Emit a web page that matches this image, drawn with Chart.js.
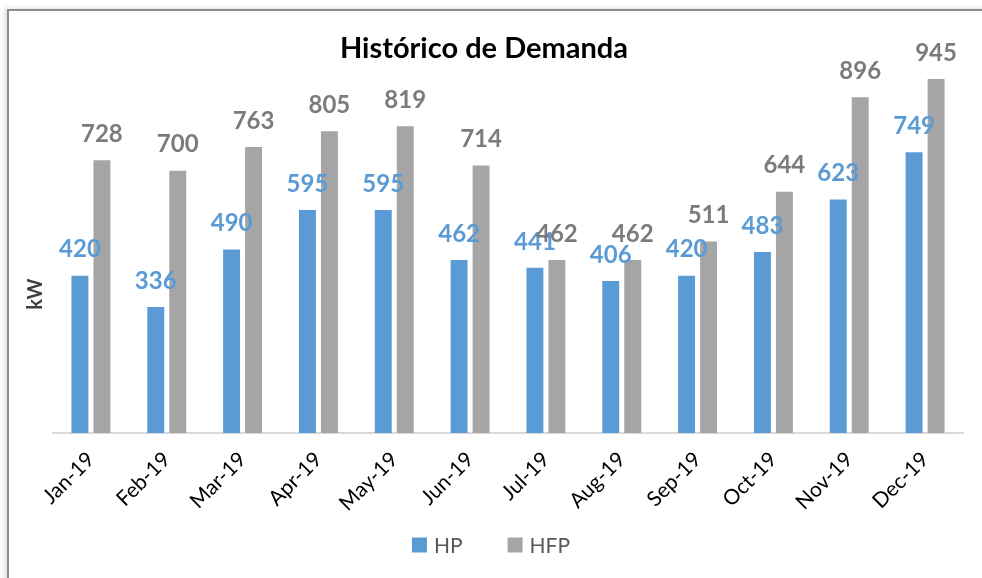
<!DOCTYPE html>
<html>
<head>
<meta charset="utf-8">
<script src="https://cdn.jsdelivr.net/npm/chart.js@4/dist/chart.umd.min.js"></script>
<style>
  html, body { margin: 0; padding: 0; background: #fff; overflow: hidden; }
  #frame {
    position: absolute; left: 7px; top: 9px; width: 1000px; height: 600px;
    border-left: 2px solid #8c8c8c; border-top: 2px solid #8c8c8c;
    box-shadow: -3px -1px 4px rgba(0,0,0,0.12);
  }
  #wrap { position: absolute; left: 0; top: 0; width: 982px; height: 578px; }
</style>
</head>
<body>
<div id="frame"></div>
<div id="wrap"><canvas id="c" width="982" height="578"></canvas></div>
<script>
const months = ['Jan-19','Feb-19','Mar-19','Apr-19','May-19','Jun-19','Jul-19','Aug-19','Sep-19','Oct-19','Nov-19','Dec-19'];
const hp  = [420, 336, 490, 595, 595, 462, 441, 406, 420, 483, 623, 749];
const hfp = [728, 700, 763, 805, 819, 714, 462, 462, 511, 644, 896, 945];

const FONT = 'Lato, "Open Sans", sans-serif';

// value labels above each bar, coloured like their series
const valueLabels = {
  id: 'valueLabels',
  afterDatasetsDraw(chart) {
    const ctx = chart.ctx;
    ctx.save();
    ctx.font = 'bold 24px ' + FONT;
    ctx.textAlign = 'center';
    ctx.textBaseline = 'bottom';
    chart.data.datasets.forEach((ds, i) => {
      const meta = chart.getDatasetMeta(i);
      ctx.fillStyle = ds.labelColor;
      meta.data.forEach((bar, j) => {
        ctx.fillText(String(ds.data[j]), bar.x, bar.y - 14);
      });
    });
    ctx.restore();
  }
};

// vertical axis caption
const axisCaption = {
  id: 'axisCaption',
  afterDraw(chart) {
    const ctx = chart.ctx;
    const a = chart.chartArea;
    ctx.save();
    ctx.translate(36, a.bottom - 139);
    ctx.rotate(-Math.PI / 2);
    ctx.font = 'bold 20px ' + FONT;
    ctx.fillStyle = '#404040';
    ctx.textAlign = 'center';
    ctx.textBaseline = 'middle';
    ctx.fillText('kW', 0, 0);
    ctx.restore();
  }
};

// series key, centred under the month labels
const seriesKey = {
  id: 'seriesKey',
  afterDraw(chart) {
    const ctx = chart.ctx;
    const box = 15, gapText = 7, gapItem = 45;
    ctx.save();
    ctx.font = '21px ' + FONT;
    ctx.textBaseline = 'middle';
    const items = chart.data.datasets.map(ds => ({
      text: ds.label, color: ds.backgroundColor, w: ctx.measureText(ds.label).width
    }));
    const total = items.reduce((s, it) => s + box + gapText + it.w, 0) + gapItem * (items.length - 1);
    let x = chart.width / 2 - total / 2;
    const y = chart.height - 33;
    items.forEach(it => {
      ctx.fillStyle = it.color;
      ctx.fillRect(x, y - box / 2, box, box);
      ctx.fillStyle = '#595959';
      ctx.fillText(it.text, x + box + gapText, y + 1);
      x += box + gapText + it.w + gapItem;
    });
    ctx.restore();
  }
};

new Chart(document.getElementById('c'), {
  type: 'bar',
  data: {
    labels: months,
    datasets: [
      { label: 'HP',  data: hp,  backgroundColor: '#5b9bd5', labelColor: '#5b9bd5' },
      { label: 'HFP', data: hfp, backgroundColor: '#a5a5a5', labelColor: '#7b7b7b' }
    ]
  },
  options: {
    responsive: false,
    animation: false,
    layout: { padding: { left: 5, right: 19, top: 4, bottom: 48 } },
    datasets: { bar: { categoryPercentage: 0.58, barPercentage: 0.77 } },
    scales: {
      x: {
        grid: { display: false, drawTicks: false },
        border: { display: true, color: '#d9d9d9', width: 2 },
        ticks: {
          color: '#000', font: { family: FONT, size: 21 },
          maxRotation: 45, minRotation: 45, padding: 14
        }
      },
      y: {
        min: 0, max: 980,
        grid: { display: false, drawTicks: false },
        border: { display: false },
        ticks: { display: false },
        afterFit(scale) { scale.width = 48; }
      }
    },
    plugins: {
      title: {
        display: true, text: 'Histórico de Demanda',
        color: '#000', font: { family: FONT, size: 29, weight: 'bold' },
        padding: { top: 27, bottom: 0 }
      },
      legend: { display: false },
      tooltip: { enabled: false }
    }
  },
  plugins: [valueLabels, axisCaption, seriesKey]
});
</script>
</body>
</html>
